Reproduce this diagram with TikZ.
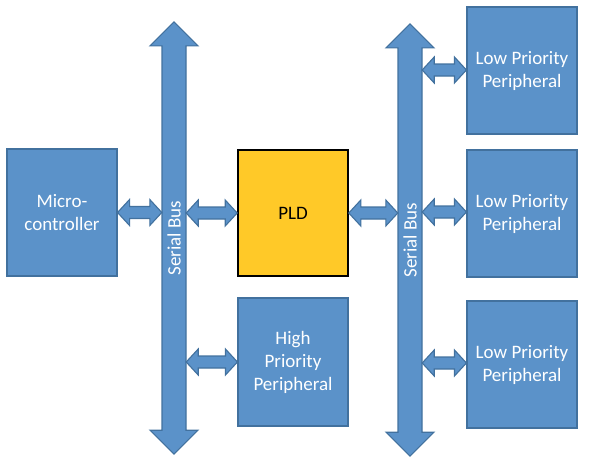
\documentclass[tikz,border=0pt]{standalone}
\usepackage{fontspec}
\setmainfont{Carlito}
\usetikzlibrary{calc}
\definecolor{boxblue}{RGB}{91,146,201}
\definecolor{edgeblue}{RGB}{66,113,158}
\definecolor{pldyellow}{RGB}{255,201,40}
\tikzset{
  blk/.style={rectangle, fill=boxblue, draw=edgeblue, line width=1.1pt,
    minimum width=110pt, inner sep=0pt, align=center, text=white,
    font=\fontsize{19}{23}\selectfont},
  pldbox/.style={blk, fill=pldyellow, draw=black, line width=1.6pt, text=black},
  buslbl/.style={rotate=90, text=white, font=\fontsize{19}{23}\selectfont, inner sep=0pt},
  fatarrow/.style={fill=boxblue, draw=edgeblue, line width=1.1pt, line join=miter},
  hfat/.style={fatarrow, to path={
    let \p1=(\tikztostart), \p2=(\tikztotarget) in
    (\x1,\y1) -- (\x1+12pt,\y1+13pt) -- (\x1+12pt,\y1+6pt) -- (\x2-12pt,\y1+6pt)
    -- (\x2-12pt,\y1+13pt) -- (\x2,\y1) -- (\x2-12pt,\y1-13pt) -- (\x2-12pt,\y1-6pt)
    -- (\x1+12pt,\y1-6pt) -- (\x1+12pt,\y1-13pt) -- cycle}},
  vfat/.style={fatarrow, to path={
    let \p1=(\tikztostart), \p2=(\tikztotarget) in
    (\x1,\y1) -- (\x1+24pt,\y1-24pt) -- (\x1+12pt,\y1-24pt) -- (\x1+12pt,\y2+24pt)
    -- (\x1+24pt,\y2+24pt) -- (\x1,\y2) -- (\x1-24pt,\y2+24pt) -- (\x1-12pt,\y2+24pt)
    -- (\x1-12pt,\y1-24pt) -- (\x1-24pt,\y1-24pt) -- cycle}}
}
\begin{document}
\begin{tikzpicture}[x=1pt, y=-1pt]
\useasboundingbox (0,0) rectangle (598,466);
% bus shafts (invisible reference nodes)
\node[rectangle, minimum width=24pt, minimum height=384pt, inner sep=0pt] (bus1) at (174,238) {};
\node[rectangle, minimum width=24pt, minimum height=384pt, inner sep=0pt] (bus2) at (410,240) {};
\draw[vfat] ($(bus1.north)+(0,-24)$) to ($(bus1.south)+(0,24)$);
\draw[vfat] ($(bus2.north)+(0,-24)$) to ($(bus2.south)+(0,24)$);
\node[buslbl] (bus1lbl) at (bus1.center) {Serial Bus};
\node[buslbl] (bus2lbl) at (bus2.center) {Serial Bus};
% boxes
\node[blk, minimum height=127pt] (micro) at (62,212.5) {Micro-\\controller};
\node[pldbox, minimum height=126pt] (pld) at (293,213) {PLD};
\node[blk, minimum height=128pt] (hp) at (293,362) {High\\Priority\\Peripheral};
\node[blk, minimum height=127pt] (lp1) at (522,70.5) {Low Priority\\Peripheral};
\node[blk, minimum height=127pt] (lp2) at (522,213.5) {Low Priority\\Peripheral};
\node[blk, minimum height=127pt] (lp3) at (522,364.5) {Low Priority\\Peripheral};
% connectors
\draw[hfat] (micro.east) to (micro.east -| bus1.west);
\draw[hfat] (pld.west -| bus1.east) to (pld.west);
\draw[hfat] (hp.west -| bus1.east) to (hp.west);
\draw[hfat] (pld.east) to (pld.east -| bus2.west);
\draw[hfat] ($(lp1.west -| bus2.east)+(0,-0.5)$) to ($(lp1.west)+(0,-0.5)$);
\draw[hfat] ($(lp2.west -| bus2.east)+(0,-1.5)$) to ($(lp2.west)+(0,-1.5)$);
\draw[hfat] ($(lp3.west -| bus2.east)+(0,-1.5)$) to ($(lp3.west)+(0,-1.5)$);
\end{tikzpicture}
\end{document}
